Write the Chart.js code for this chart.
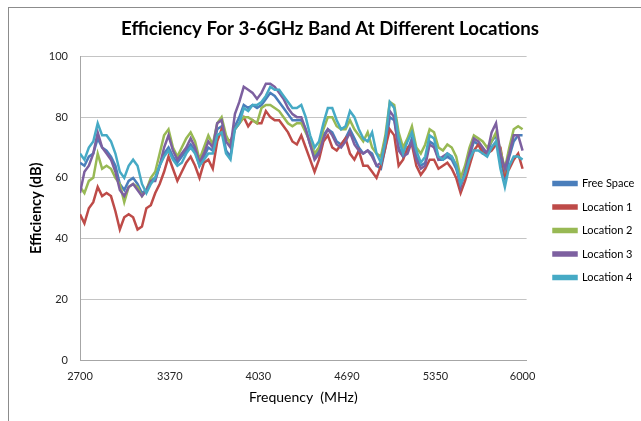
<!DOCTYPE html>
<html>
<head>
<meta charset="utf-8">
<script src="https://cdn.jsdelivr.net/npm/chart.js@4/dist/chart.umd.min.js"></script>
<style>
  body { margin: 0; background: #fff; overflow: hidden; }
  #frame { position: absolute; left: 8px; top: 7px; width: 700px; height: 500px; border: 1px solid #8c8c8c; }
  #wrap { position: absolute; left: 0; top: 0; width: 641px; height: 421px; }
</style>
</head>
<body>
<div id="frame"></div>
<div id="wrap"><canvas id="chart"></canvas></div>
<script>
// frequency points, 33 MHz apart
const frequencies = [];
for (let f = 2700; f <= 6000; f += 33) frequencies.push(f);

const xTicks = [2700, 3370, 4030, 4690, 5350, 6000];

const freeSpace = [65,64,67,68,73,70,69,67,64,58,56,59,60,58,55,56,59,60,64,68,
  70,67,65,67,69,71,69,64,67,70,69,76,77,69,67,77,80,84,83,84,
  83,84,86,88,87,85,83,81,79,79,79,76,71,67,69,74,76,75,72,71,
  73,76,73,70,68,69,68,64,63,70,80,79,70,67,69,73,67,64,65,72,
  71,66,66,67,66,63,58,61,67,72,71,69,68,72,74,66,60,67,72,74,74];

const location1 = [48,45,50,52,57,54,55,54,49,43,47,48,47,43,44,50,51,55,58,62,
  67,63,59,62,65,67,64,60,65,66,63,72,76,73,72,76,78,80,77,79,
  78,78,82,80,79,79,77,75,72,71,74,70,66,62,66,72,74,70,69,71,
  73,68,66,69,64,64,62,60,64,70,76,74,64,66,70,71,64,61,63,66,
  66,63,64,65,63,60,55,59,64,69,71,68,68,69,71,70,61,63,66,68,63];

const location2 = [57,55,59,60,68,63,64,63,60,58,52,57,58,57,54,56,60,62,68,74,
  76,70,67,70,73,75,72,66,70,74,71,78,80,74,71,76,78,80,80,79,
  78,83,84,84,83,82,80,78,77,78,78,75,72,68,70,76,80,80,77,76,
  76,79,76,74,72,75,70,68,67,74,85,84,75,70,73,77,70,68,71,76,
  75,70,69,71,70,67,60,64,70,74,73,72,70,72,75,69,63,70,76,77,76];

const location3 = [55,62,64,68,75,70,68,66,62,56,54,57,58,56,54,56,59,59,64,70,
  74,69,66,68,70,73,70,65,68,72,70,78,79,72,70,81,85,90,89,88,
  86,88,91,91,90,88,86,83,81,80,80,76,71,66,68,73,76,74,71,70,
  72,75,71,69,68,69,67,64,65,72,82,80,69,67,68,72,66,63,64,71,
  70,66,67,68,67,64,57,62,68,73,72,70,68,75,78,68,63,68,74,74,69];

const location4 = [68,66,70,72,78,74,74,72,68,62,60,64,66,64,58,55,58,60,64,67,
  69,66,64,65,68,70,68,64,66,68,68,74,75,68,66,76,78,83,82,84,
  84,85,87,90,89,89,87,85,83,83,84,80,74,70,72,78,83,83,79,76,
  77,82,80,76,73,72,75,68,65,72,85,83,73,68,72,75,69,65,67,74,
  73,67,66,68,67,64,58,61,66,69,69,68,67,70,72,63,57,64,67,67,66];

const seriesNames = ['Free Space', 'Location 1', 'Location 2', 'Location 3', 'Location 4'];
const seriesValues = [freeSpace, location1, location2, location3, location4];
const seriesColors = ['#4a7ebb', '#be4b48', '#98b954', '#7d60a0', '#46aac5'];

const font = "Lato, 'Open Sans', sans-serif";

const datasets = seriesNames.map((name, i) => ({
  label: name,
  data: frequencies.map((f, j) => ({ x: f, y: seriesValues[i][j] })),
  borderColor: seriesColors[i],
  backgroundColor: seriesColors[i],
  borderWidth: 2.5,
  pointRadius: 0,
  tension: 0,
  order: seriesNames.length - i
}));

// nudge the legend and title to where Excel puts them
const moveBoxes = {
  id: 'moveBoxes',
  afterLayout(chart) {
    const lg = chart.legend;
    const dx = 553 - (lg.left + 12);
    lg.left += dx; lg.right += dx;
    lg.top += 20; lg.bottom += 20;
    if (lg.legendHitBoxes) lg.legendHitBoxes.forEach(b => { b.left += dx; b.top += 20; });
    const t = chart.titleBlock;
    t.left += 15; t.right += 15;
  }
};

new Chart(document.getElementById('chart'), {
  type: 'line',
  data: { datasets: datasets },
  plugins: [moveBoxes],
  options: {
    responsive: true,
    maintainAspectRatio: false,
    animation: false,
    layout: { padding: { left: 0, right: 11, top: 0, bottom: 0 } },
    plugins: {
      title: {
        display: true,
        text: 'Efficiency For 3-6GHz Band At Different Locations',
        color: '#000',
        font: { family: font, size: 18.7, weight: 'bold' },
        padding: { top: 18, bottom: 16 }
      },
      legend: {
        position: 'right',
        labels: {
          boxWidth: 23,
          boxHeight: 3,
          padding: 12.5,
          color: '#000',
          font: { family: font, size: 11 },
          sort: (a, b) => a.datasetIndex - b.datasetIndex
        }
      },
      tooltip: { enabled: false }
    },
    scales: {
      x: {
        type: 'linear',
        min: 2700,
        max: 6030,
        afterBuildTicks: (scale) => { scale.ticks = xTicks.map(v => ({ value: v })); },
        afterFit: (scale) => { scale.height = 61; },
        grid: { display: false, drawTicks: false },
        border: { display: true, color: '#a6a6a6' },
        ticks: {
          padding: 10, color: '#262626', maxRotation: 0,
          font: { family: font, size: 11 },
          callback: (v) => String(v)
        },
        title: {
          display: true,
          text: 'Frequency  (MHz)',
          color: '#000',
          font: { family: font, size: 14 },
          padding: { top: 0, bottom: 15 }
        }
      },
      y: {
        min: 0,
        max: 100,
        afterFit: (scale) => { scale.width = 80; },
        grid: { color: '#c4c4c4', drawTicks: false },
        border: { display: true, color: '#a6a6a6' },
        ticks: { stepSize: 20, padding: 12, color: '#262626', font: { family: font, size: 11 } },
        title: {
          display: true,
          text: 'Efficiency (dB)',
          color: '#000',
          font: { family: font, size: 14.5, weight: 'bold' },
          padding: { top: 28, bottom: 0 }
        }
      }
    }
  }
});
</script>
</body>
</html>
